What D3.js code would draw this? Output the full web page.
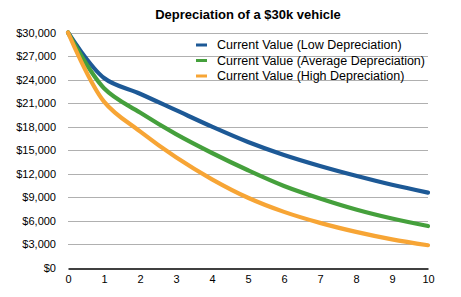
<!DOCTYPE html>
<meta charset="utf-8">
<style>
    body { margin: 0; background: #fff; }
    .chart text { font-family: "Liberation Sans", Arial, sans-serif; fill: #000; }
    .grid line { stroke: #b0b0b0; stroke-width: 1; }
    .line { fill: none; stroke-width: 4.2; stroke-linejoin: round; stroke-linecap: round; }
</style>
<svg class="chart"></svg>
<script src="https://cdn.jsdelivr.net/npm/d3@7"></script>
<script>

    var years = [0, 1, 2, 3, 4, 5, 6, 7, 8, 9, 10];
    var lowValues = [30000, 24200, 22200, 20100, 18000, 16050, 14400, 13000, 11750, 10600, 9600];
    var avgValues = [30000, 22900, 19800, 17050, 14650, 12450, 10450, 8850, 7450, 6300, 5350];
    var highValues = [30000, 21200, 17400, 14100, 11300, 8950, 7150, 5750, 4600, 3650, 2900];
    var seriesNames = ["Current Value (Low Depreciation)", "Current Value (Average Depreciation)", "Current Value (High Depreciation)"];
    var yTicks = [0, 3000, 6000, 9000, 12000, 15000, 18000, 21000, 24000, 27000, 30000];

    var colors = ["#1d5996", "#45a03c", "#f7a535"];
    var series = [lowValues, avgValues, highValues];

    var width = 461,
        height = 297;

    var x = d3.scaleLinear().domain([0, 10]).range([68, 428]);
    var y = d3.scaleLinear().domain([0, 30000]).range([268, 32.5]);

    var chart = d3.select(".chart")
        .attr("width", width)
        .attr("height", height);

    chart.append("text")
        .attr("x", 248)
        .attr("y", 18.5)
        .attr("text-anchor", "middle")
        .style("font-size", "13px")
        .style("font-weight", "bold")
        .text("Depreciation of a $30k vehicle");

    // horizontal gridlines
    chart.append("g")
        .attr("class", "grid")
        .selectAll("line")
        .data(yTicks.slice(1))
        .enter().append("line")
        .attr("x1", x(0))
        .attr("x2", x(10))
        .attr("y1", function(d) { return Math.round(y(d)) + 0.5; })
        .attr("y2", function(d) { return Math.round(y(d)) + 0.5; });

    var yAxis = chart.append("g")
        .attr("transform", "translate(56,0)")
        .call(d3.axisLeft(y).tickValues(yTicks).tickSize(0).tickPadding(0)
            .tickFormat(function(d) { return "$" + d3.format(",")(d); }));
    yAxis.select(".domain").remove();
    yAxis.selectAll("text").style("font-size", "11px");

    var xAxis = chart.append("g")
        .attr("transform", "translate(0,268.5)")
        .call(d3.axisBottom(x).tickValues(years).tickSize(0).tickPadding(7).tickFormat(d3.format("d")));
    xAxis.select(".domain").attr("stroke", "#000").attr("stroke-width", 1.3);
    xAxis.selectAll("text").style("font-size", "11px");

    var line = d3.line()
        .x(function(d, i) { return x(years[i]); })
        .y(function(d) { return y(d); })
        .curve(d3.curveCatmullRom.alpha(0.5));

    chart.selectAll(".line")
        .data(series)
        .enter().append("path")
        .attr("class", "line")
        .attr("stroke", function(d, i) { return colors[i]; })
        .attr("d", line);

    // legend
    var legend = chart.append("g").selectAll("g")
        .data(seriesNames)
        .enter().append("g")
        .attr("transform", function(d, i) { return "translate(196," + (45 + i * 15.5) + ")"; });

    legend.append("line")
        .attr("x1", 0).attr("x2", 11)
        .attr("stroke", function(d, i) { return colors[i]; })
        .attr("stroke-width", 3);

    legend.append("text")
        .attr("x", 21)
        .attr("dy", "0.35em")
        .style("font-size", "12.5px")
        .text(function(d) { return d; });

</script>
